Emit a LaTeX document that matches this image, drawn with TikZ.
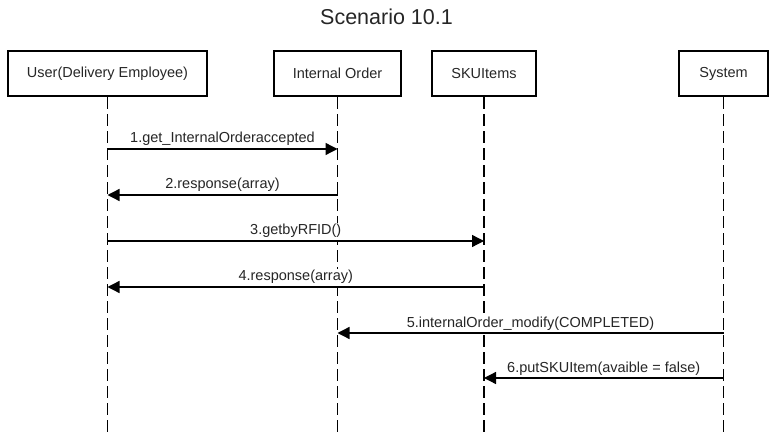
\documentclass[tikz,border=0pt]{standalone}
\usepackage{fontspec}
\setmainfont{Liberation Sans}
\usetikzlibrary{arrows.meta}
\begin{document}
\begin{tikzpicture}[x=1pt,y=-1pt,
  actor/.style={draw=black, line width=2.4pt, minimum height=45pt, inner sep=0pt, font=\fontsize{14.5}{17}\selectfont, text=black!85},
  life/.style={line width=1.3pt, dash pattern=on 12pt off 5pt},
  msg/.style={line width=1.3pt, -{Triangle[length=12pt,width=12pt]}},
  lbl/.style={anchor=base, yshift=6pt, font=\fontsize{14.5}{17}\selectfont, text=black!85, fill=white, inner xsep=1pt, inner ysep=1.5pt}]
\useasboundingbox (0,0) rectangle (773,435);
\node[anchor=base, font=\fontsize{21.5}{25}\selectfont, text=black!85, inner sep=0pt] (title) at (386.5,25) {Scenario 10.1};
\node[actor, minimum width=199pt] (user) at (107.5,73.5) {User(Delivery Employee)};
\node[actor, minimum width=127pt] (io) at (337.5,73.5) {Internal Order};
\node[actor, minimum width=104pt] (sku) at (484,73.5) {SKUItems};
\node[actor, minimum width=89pt] (sys) at (723.5,73.5) {System};
\foreach \n in {user,io,sku,sys}{
  \coordinate (\n-end) at (\n.south |- 0,435);
  \draw[life] (\n.south) -- (\n-end);
}
\draw[msg] (user |- 0,149) -- node[lbl] (m1) {1.get\_InternalOrderaccepted} (io |- 0,149);
\draw[msg] (io |- 0,195) -- node[lbl] (m2) {2.response(array)} (user |- 0,195);
\draw[msg] (user |- 0,241) -- node[lbl] (m3) {3.getbyRFID()} (sku |- 0,241);
\draw[msg] (sku |- 0,287) -- node[lbl] (m4) {4.response(array)} (user |- 0,287);
\draw[msg] (sys |- 0,333) -- node[lbl] (m5) {5.internalOrder\_modify(COMPLETED)} (io |- 0,333);
\draw[msg] (sys |- 0,378) -- node[lbl] (m6) {6.putSKUItem(avaible = false)} (sku |- 0,378);
\end{tikzpicture}
\end{document}
